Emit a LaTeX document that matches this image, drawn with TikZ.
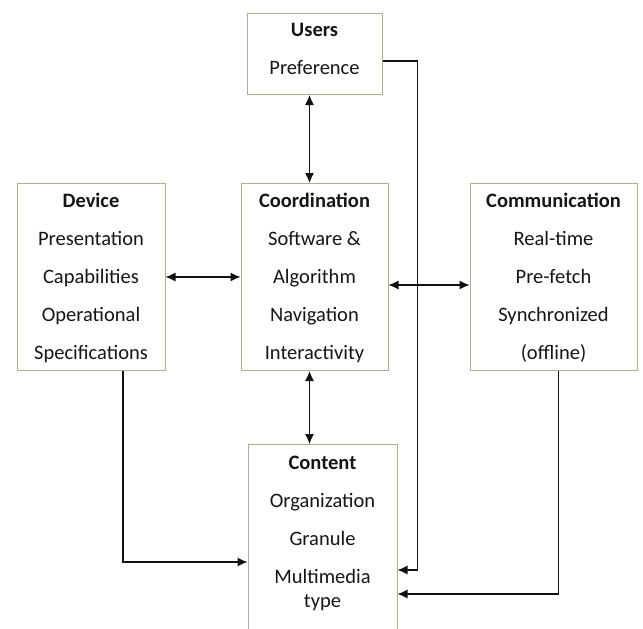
\documentclass[tikz,border=0pt]{standalone}
\usepackage{fontspec}
\setmainfont{Carlito}
\usepackage{tikz}
\usetikzlibrary{arrows.meta, calc, positioning}
\definecolor{BoxG}  {HTML}{A3B88A}
\definecolor{Ink}   {HTML}{161616}
\definecolor{Wire}  {HTML}{111111}
\tikzset{
  blk/.style args={#1/#2/#3}{
    rectangle, anchor=north,
    draw=BoxG, fill=white, text=Ink,
    font=\fontsize{20.5}{24}\selectfont, align=center,
    inner xsep=4pt, inner ysep=6pt,
    text height=#2, text depth=#3,
    minimum width=#1,
    line width=1pt,
  },
  arr/.style={
    -{Latex[length=10pt,width=9pt]},
    line width=1.2pt, color=Wire,
  },
  darr/.style={
    {Latex[length=10pt,width=9pt]}-{Latex[length=10pt,width=9pt]},
    line width=1.2pt, color=Wire,
  },
}
\begin{document}
\begin{tikzpicture}[x=1pt,y=-1pt]
  \useasboundingbox (0,0) rectangle (643,629);
  \node[blk=135pt/55pt/14pt] (users)   at (314.5,13) {\textbf{Users}\\[14pt]Preference};
  \node[blk=147pt/170pt/5pt] (coord)  at (314.5,183) {\textbf{Coordination}\\[14pt]Software \&\\[14pt]Algorithm\\[14pt]Navigation\\[14pt]Interactivity};
  \node[blk=148pt/170pt/5pt] (device) at (91,183) {\textbf{Device}\\[14pt]Presentation\\[14pt]Capabilities\\[14pt]Operational\\[14pt]Specifications};
  \node[blk=167pt/170pt/5pt] (comm)   at (553.5,183) {\textbf{Communication}\\[14pt]Real-time\\[14pt]Pre-fetch\\[14pt]Synchronized\\[14pt](offline)};
  \node[blk=149pt/157pt/60pt] (content) at (322.5,444) {\textbf{Content}\\[14pt]Organization\\[14pt]Granule\\[14pt]Multimedia\\type};
  % two-way links around coordination
  \draw[darr] ([xshift=-5pt]users.south) -- ([xshift=-5pt]users.south |- coord.north);
  \draw[darr] (device.east) -- (coord.west);
  \draw[darr] ([yshift=-8pt]coord.east) -- ([yshift=-8pt]coord.east -| comm.west);
  \draw[darr] ([xshift=-5pt]coord.south) -- ([xshift=-5pt]coord.south |- content.north);
  % feeds into content
  \draw[arr] ([xshift=32pt]device.south) |- ([yshift=-3pt]content.west);
  \draw[arr] ([yshift=-7pt]users.east) -- ++(35,0) |- ([yshift=-11pt]content.east);
  \draw[arr] ([xshift=5pt]comm.south) |- ([yshift=-35pt]content.east);
\end{tikzpicture}
\end{document}
